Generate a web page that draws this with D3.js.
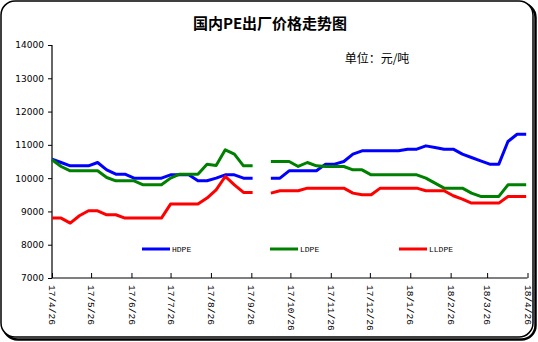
<!DOCTYPE html>
<html><head><meta charset="utf-8">
<script src="https://cdn.jsdelivr.net/npm/d3@7"></script>
<style>html,body{margin:0;padding:0;background:#fff;}svg{display:block;}</style>
</head><body><svg id="c" width="538" height="342"></svg>
<script>
const dates = ["2017-04-26","2017-05-03","2017-05-10","2017-05-17","2017-05-24","2017-05-31","2017-06-07","2017-06-14","2017-06-21","2017-06-28",
"2017-07-05","2017-07-12","2017-07-19","2017-07-26","2017-08-02","2017-08-09","2017-08-16","2017-08-23","2017-08-30","2017-09-06",
"2017-09-13","2017-09-20","2017-09-27","2017-10-04","2017-10-11","2017-10-18","2017-10-25","2017-11-01","2017-11-08","2017-11-15",
"2017-11-22","2017-11-29","2017-12-06","2017-12-13","2017-12-20","2017-12-27","2018-01-03","2018-01-10","2018-01-17","2018-01-24",
"2018-01-31","2018-02-07","2018-02-14","2018-02-21","2018-02-28","2018-03-07","2018-03-14","2018-03-21","2018-03-28","2018-04-04",
"2018-04-11","2018-04-18","2018-04-25"];
const hdpe = [10570,10470,10370,10370,10370,10470,10250,10120,10120,10000,10000,10000,10000,10100,10100,10100,9920,9920,10000,10100,10100,10000,10000,null,
10000,10000,10220,10220,10220,10220,10420,10420,10500,10720,10820,10820,10820,10820,10820,10870,10870,10970,10920,10870,10870,10720,10620,10520,10420,10420,11100,11320,11320];
const ldpe = [10550,10350,10220,10220,10220,10220,10020,9920,9920,9920,9800,9800,9800,10000,10120,10120,10120,10420,10380,10850,10720,10370,10370,null,
10500,10500,10500,10350,10470,10370,10350,10350,10350,10250,10250,10100,10100,10100,10100,10100,10100,10000,9850,9700,9700,9700,9550,9450,9450,9450,9800,9800,9800];
const lldpe = [8800,8800,8650,8870,9020,9020,8900,8900,8800,8800,8800,8800,8800,9220,9220,9220,9220,9400,9650,10050,9800,9570,9570,null,
9550,9620,9620,9620,9700,9700,9700,9700,9700,9550,9500,9500,9700,9700,9700,9700,9700,9620,9620,9620,9470,9370,9250,9250,9250,9250,9450,9450,9450];
const tickDates = ["2017-04-26","2017-05-26","2017-06-26","2017-07-26","2017-08-26","2017-09-26","2017-10-26","2017-11-26","2017-12-26","2018-01-26","2018-02-26","2018-03-26","2018-04-26"];
const tickLabels = ["17/4/26","17/5/26","17/6/26","17/7/26","17/8/26","17/9/26","17/10/26","17/11/26","17/12/26","18/1/26","18/2/26","18/3/26","18/4/26"];
const yTicks = [7000,8000,9000,10000,11000,12000,13000,14000];
const seriesNames = ["HDPE","LDPE","LLDPE"];
const seriesColors = ["#0000ff","#008000","#ff0000"];
const title = "国内PE出厂价格走势图";
const unit = "单位：元/吨";

const parse = d3.utcParse("%Y-%m-%d");
const svg = d3.select("#c");

// frame with shadow
svg.append("rect").attr("x",3.5).attr("y",3.5).attr("width",532).attr("height",336).attr("rx",14)
  .attr("fill","none").attr("stroke","#000").attr("stroke-width",2.5);
svg.append("rect").attr("x",1).attr("y",1).attr("width",532).attr("height",336).attr("rx",14)
  .attr("fill","#fff").attr("stroke","#000").attr("stroke-width",1.5);

const x = d3.scaleUtc().domain([parse("2017-04-26"), parse("2018-04-26")]).range([52, 527.5]);
const y = d3.scaleLinear().domain([7000,14000]).range([278,45]);

svg.append("text").attr("x",270).attr("y",29).attr("text-anchor","middle")
  .attr("font-family","'Noto Sans CJK SC'").attr("font-weight","bold").attr("font-size",15).text(title);
svg.append("text").attr("x",377).attr("y",63).attr("text-anchor","middle")
  .attr("font-family","'Noto Sans CJK SC'").attr("font-size",12).text(unit);

// y axis
const yAxis = svg.append("g").attr("transform","translate(52,0)")
  .call(d3.axisLeft(y).tickValues(yTicks).tickSize(4).tickPadding(4).tickFormat(d3.format("d")));
yAxis.select(".domain").attr("stroke","#000").attr("stroke-width",1.2).attr("d","M0,45V278");
yAxis.selectAll("text").attr("font-family","'DejaVu Sans'").attr("font-size",9).attr("fill","#000");

// x axis
const xAxis = svg.append("g").attr("transform","translate(0,278)")
  .call(d3.axisBottom(x).tickValues(tickDates.map(parse)).tickSize(-5).tickFormat((d,i)=>tickLabels[i]));
xAxis.select(".domain").attr("stroke","#000").attr("stroke-width",1.2).attr("d","M52,0H527.5");
xAxis.selectAll(".tick line").attr("stroke","#000");
xAxis.selectAll("text").attr("font-family","'Liberation Mono'").attr("font-size",9.5).attr("fill","#000")
  .attr("text-anchor","start").attr("y",0).attr("dy","0.35em")
  .attr("transform","translate(0,7) rotate(90)");

// lines
const all = [hdpe, ldpe, lldpe];
const line = d3.line().defined(d=>d.v!=null).x(d=>x(d.d)).y(d=>y(d.v));
all.forEach((vals,k)=>{
  const pts = vals.map((v,i)=>({d:parse(dates[i]), v}));
  svg.append("path").datum(pts).attr("d",line).attr("fill","none")
    .attr("stroke",seriesColors[k]).attr("stroke-width",3).attr("stroke-linejoin","round");
});

// legend
const legX = [142, 270, 399];
seriesNames.forEach((n,k)=>{
  svg.append("line").attr("x1",legX[k]).attr("x2",legX[k]+28).attr("y1",249).attr("y2",249)
    .attr("stroke",seriesColors[k]).attr("stroke-width",3);
  svg.append("text").attr("x",legX[k]+30).attr("y",252).attr("font-family","'Liberation Mono'")
    .attr("font-size",8).attr("fill","#000").text(n);
});
</script></body></html>
